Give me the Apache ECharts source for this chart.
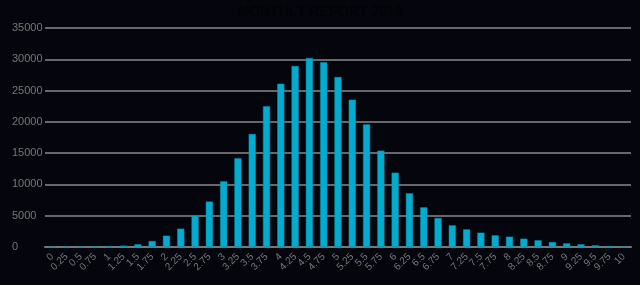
<!DOCTYPE html>
<html>
<head>
<meta charset="utf-8">
<script src="https://cdn.jsdelivr.net/npm/echarts@6/dist/echarts.min.js"></script>
<style>
html,body{margin:0;padding:0;background:#05050d;}
#c{width:640px;height:285px;}
</style>
</head>
<body>
<div id="c"></div>
<script>
var categories = ['0','0.25','0.5','0.75','1','1.25','1.5','1.75','2','2.25','2.5','2.75','3','3.25','3.5','3.75','4','4.25','4.5','4.75','5','5.25','5.5','5.75','6','6.25','6.5','6.75','7','7.25','7.5','7.75','8','8.25','8.5','8.75','9','9.25','9.5','9.75','10'];
var counts = [0,2,6,20,80,220,430,960,1810,2930,5000,7260,10500,14180,18060,22480,26100,28930,30200,29520,27170,23550,19600,15400,11880,8580,6340,4640,3460,2820,2290,1860,1650,1330,1070,800,590,430,270,160,60];
var yTicks = [0,5000,10000,15000,20000,25000,30000,35000];
var titleText = 'MONTHLY REPORT 2018';

var chart = echarts.init(document.getElementById('c'), null, {renderer:'canvas'});
chart.setOption({
  backgroundColor:'#05050d',
  animation:false,
  textStyle:{fontFamily:'Liberation Sans, Arial, sans-serif'},
  title:{text:titleText,left:'center',top:0,textStyle:{color:'#020207',fontSize:14,fontWeight:'bold',fontFamily:'Liberation Sans, Arial, sans-serif'}},
  grid:{left:45,right:9,top:28,bottom:38},
  xAxis:{type:'category',data:categories,
    axisLine:{lineStyle:{color:'#777',width:2}},
    axisTick:{show:false},
    axisLabel:{interval:0,rotate:45,color:'#777',fontSize:10,margin:8}},
  yAxis:{type:'value',min:yTicks[0],max:yTicks[yTicks.length-1],interval:5000,
    axisLine:{show:false},axisTick:{show:false},
    axisLabel:{color:'#777',fontSize:11,align:'left',margin:33,formatter:function(v){return String(v);}},
    splitLine:{lineStyle:{color:'#8a8a8a',width:1.5}}},
  series:[{type:'bar',data:counts,barCategoryGap:'50%',
    itemStyle:{color:'#02acd0',borderColor:'#0590ad',borderWidth:0.5}}]
});
</script>
</body>
</html>
